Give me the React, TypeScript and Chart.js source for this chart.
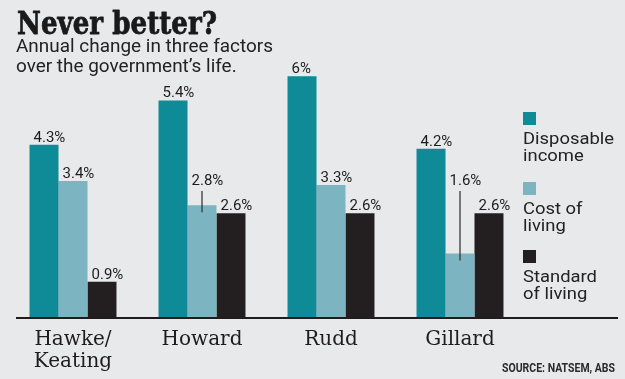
import React, { useEffect, useRef } from "react";
import { Chart, registerables } from "chart.js";

Chart.register(...registerables);

// ---- data ----
const categories: (string | string[])[] = [["Hawke/", "Keating"], "Howard", "Rudd", "Gillard"];
const disposableIncome = [4.3, 5.4, 6, 4.2];
const costOfLiving = [3.4, 2.8, 3.3, 1.6];
const standardOfLiving = [0.9, 2.6, 2.6, 2.6];
const seriesLabels = ["Disposable income", "Cost of living", "Standard of living"];
const legendLines = [["Disposable", "income"], ["Cost of", "living"], ["Standard", "of living"]];
const titleText = "Never better?";
const subtitleLines = ["Annual change in three factors", "over the government\u2019s life."];
const sourceText = "SOURCE: NATSEM, ABS";
const yMin = 0;
const yMax = 7;

// ---- style ----
const BG = "#e8e9eb";
const COLORS = ["#0f8a97", "#7db4c2", "#231f20"];
const INK = "#1e1c1d";
const SANS = "Roboto, 'Noto Sans', sans-serif";

function drawScaled(ctx: CanvasRenderingContext2D, text: string, x: number, y: number, sx: number, stroke = 0) {
  ctx.save();
  ctx.translate(x, y);
  ctx.scale(sx, 1);
  ctx.fillText(text, 0, 0);
  if (stroke > 0) {
    ctx.lineWidth = stroke;
    ctx.strokeStyle = ctx.fillStyle as string;
    ctx.lineJoin = "round";
    ctx.strokeText(text, 0, 0);
  }
  ctx.restore();
}

const decorPlugin = {
  id: "decor",
  beforeDraw(chart: any) {
    const ctx = chart.ctx as CanvasRenderingContext2D;
    ctx.save();
    ctx.fillStyle = BG;
    ctx.fillRect(0, 0, chart.width, chart.height);
    ctx.restore();
  },
  afterDatasetsDraw(chart: any) {
    const ctx = chart.ctx as CanvasRenderingContext2D;
    const yScale = chart.scales.y;
    const area = chart.chartArea;
    ctx.save();

    // baseline axis line (extends under legend)
    ctx.strokeStyle = INK;
    ctx.lineWidth = 2;
    ctx.beginPath();
    ctx.moveTo(16, area.bottom);
    ctx.lineTo(618, area.bottom);
    ctx.stroke();

    // value labels
    ctx.fillStyle = INK;
    ctx.font = `15px ${SANS}`;
    ctx.textBaseline = "alphabetic";
    ctx.textAlign = "left";
    chart.data.datasets.forEach((ds: any, d: number) => {
      const meta = chart.getDatasetMeta(d);
      meta.data.forEach((bar: any, i: number) => {
        const v = ds.data[i] as number;
        const left = bar.x - bar.width / 2 + 4;
        let ly = bar.y - 3;
        if (d === 1 && costOfLiving[i] - standardOfLiving[i] < 0.5) {
          ly = yScale.getPixelForValue(standardOfLiving[i] + 0.7);
          ctx.strokeStyle = "#2a2a2a";
          ctx.lineWidth = 1.2;
          ctx.beginPath();
          ctx.moveTo(bar.x, ly + 6);
          ctx.lineTo(bar.x, bar.y + 7);
          ctx.stroke();
        }
        ctx.fillText(`${v}%`, left, ly);
      });
    });

    // title
    ctx.fillStyle = "#1a1a1a";
    ctx.font = `bold 31px 'DejaVu Serif', serif`;
    let w = ctx.measureText(titleText).width;
    drawScaled(ctx, titleText, 17, 33.5, 200 / w, 0.8);

    // subtitle
    ctx.fillStyle = "#222";
    ctx.font = `18px ${SANS}`;
    w = ctx.measureText(subtitleLines[0]).width;
    const ss = 257 / w;
    drawScaled(ctx, subtitleLines[0], 16, 51.5, ss);
    drawScaled(ctx, subtitleLines[1], 16, 72, ss);

    // legend
    ctx.font = `17px ${SANS}`;
    w = ctx.measureText(legendLines[0][0]).width;
    const ls = 91 / w;
    const squareTops = [112, 182, 250];
    legendLines.forEach((lines, k) => {
      const top = squareTops[k];
      ctx.fillStyle = COLORS[k];
      ctx.fillRect(523, top, 13, 13);
      ctx.fillStyle = "#222";
      lines.forEach((ln, j) => drawScaled(ctx, ln, 523, top + 31.5 + j * 17, ls));
    });

    // source
    ctx.fillStyle = "#2a2a2a";
    ctx.font = `bold 12px ${SANS}`;
    w = ctx.measureText(sourceText).width;
    drawScaled(ctx, sourceText, 502, 372, 113 / w);

    ctx.restore();
  },
};

export default function App() {
  const ref = useRef<HTMLCanvasElement | null>(null);

  useEffect(() => {
    if (!ref.current) return;
    const series = [disposableIncome, costOfLiving, standardOfLiving];
    const chart = new Chart(ref.current, {
      type: "bar",
      data: {
        labels: categories,
        datasets: series.map((data, k) => ({
          label: seriesLabels[k],
          data,
          backgroundColor: COLORS[k],
          borderWidth: 0,
          categoryPercentage: 0.674,
          barPercentage: 1,
        })),
      },
      options: {
        animation: false,
        responsive: false,
        maintainAspectRatio: false,
        layout: { padding: { top: 36, left: 8.5, right: 100.5, bottom: 0 } },
        plugins: {
          legend: { display: false },
          tooltip: { enabled: false },
          title: { display: false },
        },
        scales: {
          x: {
            grid: { display: false, drawTicks: false },
            border: { display: false },
            ticks: {
              color: INK,
              font: { family: "'DejaVu Serif', serif", size: 20, lineHeight: 1.1 },
              padding: 11,
              maxRotation: 0,
              autoSkip: false,
            },
            afterFit: (scale: any) => {
              scale.height = 61;
            },
          },
          y: {
            display: false,
            min: yMin,
            max: yMax,
          },
        },
      },
      plugins: [decorPlugin],
    });
    return () => chart.destroy();
  }, []);

  return (
    <div style={{ position: "fixed", left: 0, top: 0, width: 625, height: 379, background: BG }}>
      <canvas ref={ref} width={625} height={379} style={{ display: "block" }} />
    </div>
  );
}
